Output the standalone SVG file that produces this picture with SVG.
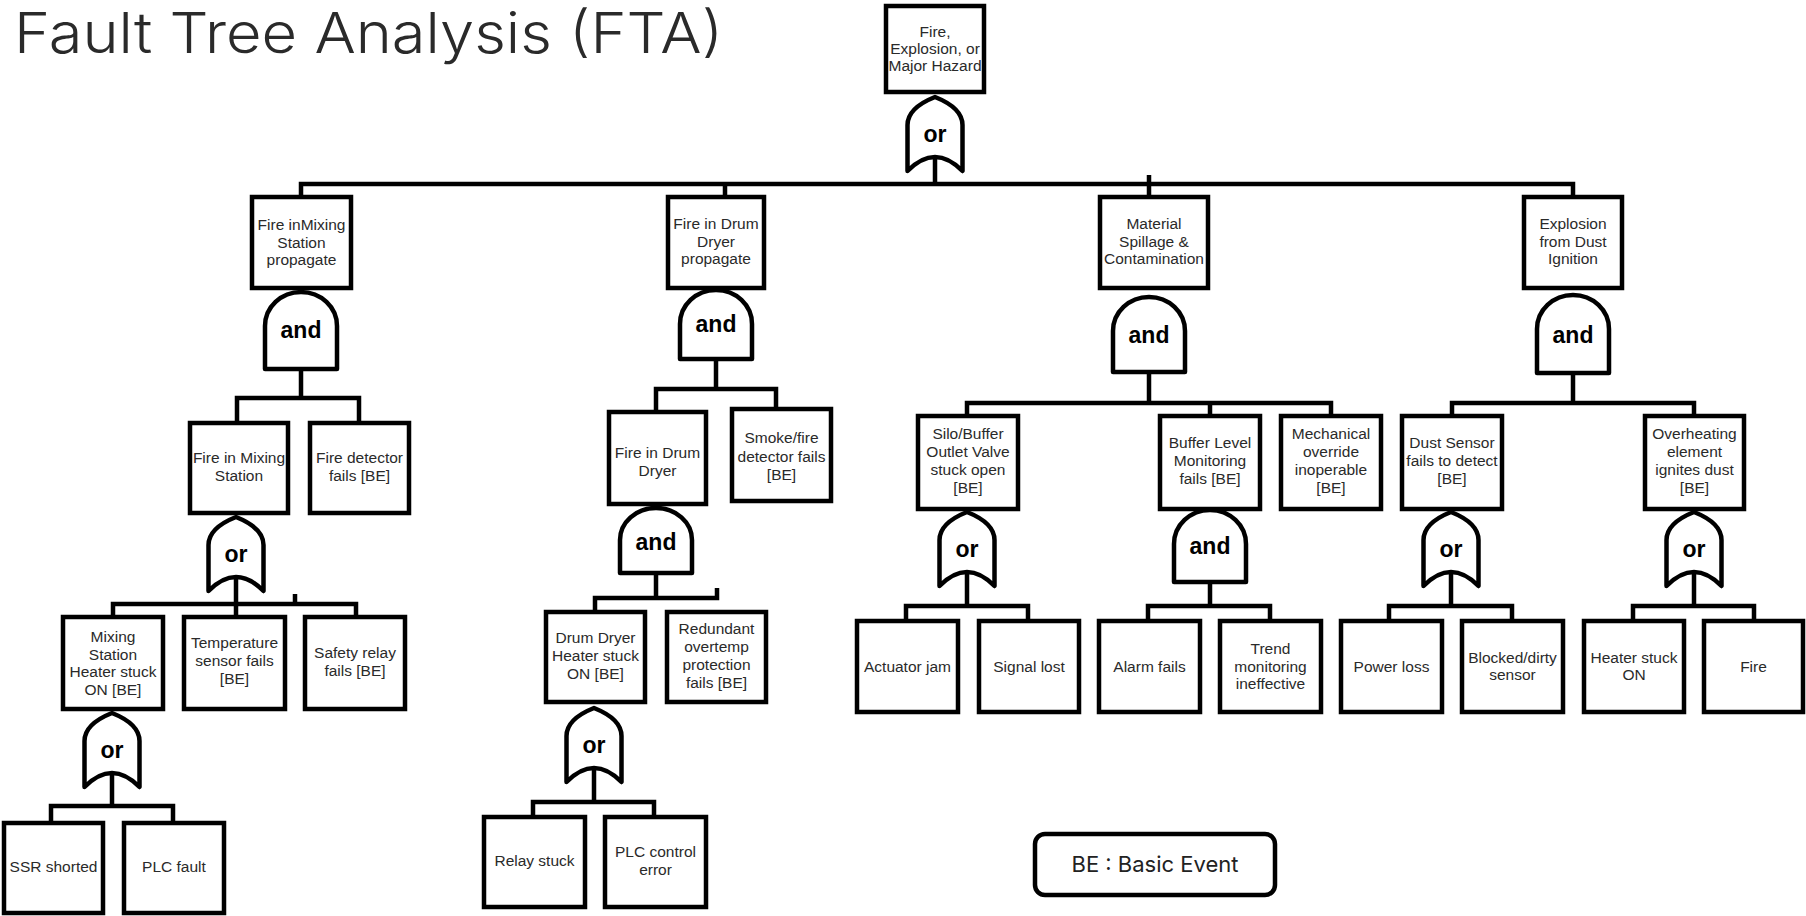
<svg xmlns="http://www.w3.org/2000/svg" xmlns:xlink="http://www.w3.org/1999/xlink" width="1806" height="916" viewBox="0 0 1806 916">
<style>
.box{fill:#fff;stroke:#000;stroke-width:4.5}
.gate{fill:#fff;stroke:#000;stroke-width:4.5;stroke-linejoin:round}
.wire{fill:none;stroke:#000;stroke-width:4.5;stroke-linejoin:miter}
.t{font-family:"Liberation Sans",Arial,sans-serif;font-size:15.5px;fill:#2a2a2a;text-anchor:middle}
.g{font-family:"Liberation Sans",Arial,sans-serif;font-size:23px;font-weight:bold;fill:#000;text-anchor:middle}
.title{font-family:Inter,"Liberation Sans",sans-serif;font-weight:300;font-size:56px;fill:#2a2a2a}
.legend{font-family:Inter,"Liberation Sans",sans-serif;font-size:22px;fill:#222;text-anchor:middle}
</style>
<defs>
<path id="or" class="gate" d="M0,0 Q-27.5,11 -27.5,28 L-27.5,74 Q0,46 27.5,74 L27.5,28 Q27.5,11 0,0 Z"/>
</defs>
<rect width="1806" height="916" fill="#fff"/>
<text class="title" x="14" y="53" textLength="709" lengthAdjust="spacingAndGlyphs">Fault Tree Analysis (FTA)</text>

<g id="connectors">
<path class="wire" d="M935,150 V184 M301,197 V184 H1573 V197 M725,184 V197 M1149,175 V197"/>
<path class="wire" d="M301,360 V398 M237,423 V398 H359 V423"/>
<path class="wire" d="M716,350 V389 M656,412 V389 H776 V409"/>
<path class="wire" d="M1149,360 V403 M967,416 V403 H1331 V416 M1210,403 V416"/>
<path class="wire" d="M1573,360 V403 M1452,416 V403 H1694 V416"/>
<path class="wire" d="M236,570 V617 M113,617 V604 H356 V617 M295,594 V604"/>
<path class="wire" d="M656,560 V598 M595,612 V598 H717 V588"/>
<path class="wire" d="M112,770 V806 M51,823 V806 H173 V823"/>
<path class="wire" d="M594,765 V802 M533,817 V802 H654 V817"/>
<path class="wire" d="M967,570 V606 M906,621 V606 H1028 V621"/>
<path class="wire" d="M1210,570 V606 M1148,621 V606 H1270 V621"/>
<path class="wire" d="M1451,570 V606 M1389,621 V606 H1512 V621"/>
<path class="wire" d="M1694,570 V606 M1633,621 V606 H1754 V621"/>
</g>

<g id="top">
<rect class="box" x="886" y="6" width="98" height="86"/>
<text class="t"><tspan x="935" y="37">Fire,</tspan><tspan x="935" y="54">Explosion, or</tspan><tspan x="935" y="71">Major Hazard</tspan></text>
</g>
<g id="gate-top"><use xlink:href="#or" x="935" y="97"/><text class="g" x="935" y="142">or</text></g>

<g id="mix-propagate">
<rect class="box" x="252" y="197" width="99" height="91"/>
<text class="t"><tspan x="301.5" y="230">Fire inMixing</tspan><tspan x="301.5" y="247.5">Station</tspan><tspan x="301.5" y="265">propagate</tspan></text>
</g>
<g id="gate-mix-propagate"><path class="gate" d="M265,369 V326 A36,34 0 0 1 337,326 V369 Z"/><text class="g" x="301" y="338">and</text></g>

<g id="drum-propagate">
<rect class="box" x="668" y="197" width="96" height="91"/>
<text class="t"><tspan x="716" y="229">Fire in Drum</tspan><tspan x="716" y="247">Dryer</tspan><tspan x="716" y="264">propagate</tspan></text>
</g>
<g id="gate-drum-propagate"><path class="gate" d="M680,359 V324 A36,34 0 0 1 752,324 V359 Z"/><text class="g" x="716" y="332">and</text></g>

<g id="spillage">
<rect class="box" x="1100" y="197" width="108" height="91"/>
<text class="t"><tspan x="1154" y="229">Material</tspan><tspan x="1154" y="247">Spillage &amp;</tspan><tspan x="1154" y="264">Contamination</tspan></text>
</g>
<g id="gate-spillage"><path class="gate" d="M1113,372 V331 A36,34 0 0 1 1185,331 V372 Z"/><text class="g" x="1149" y="343">and</text></g>

<g id="dust-explosion">
<rect class="box" x="1524" y="197" width="98" height="91"/>
<text class="t"><tspan x="1573" y="229">Explosion</tspan><tspan x="1573" y="247">from Dust</tspan><tspan x="1573" y="264">Ignition</tspan></text>
</g>
<g id="gate-dust-explosion"><path class="gate" d="M1537,373 V329 A36,34 0 0 1 1609,329 V373 Z"/><text class="g" x="1573" y="343">and</text></g>

<g id="fire-mixing">
<rect class="box" x="190" y="423" width="98" height="90"/>
<text class="t"><tspan x="239" y="463">Fire in Mixing</tspan><tspan x="239" y="481">Station</tspan></text>
</g>
<g id="gate-fire-mixing"><use xlink:href="#or" x="236" y="517"/><text class="g" x="236" y="562">or</text></g>

<g id="fire-detector">
<rect class="box" x="310" y="423" width="99" height="90"/>
<text class="t"><tspan x="359.5" y="463">Fire detector</tspan><tspan x="359.5" y="481">fails [BE]</tspan></text>
</g>

<g id="fire-drum">
<rect class="box" x="609" y="412" width="97" height="92"/>
<text class="t"><tspan x="657.5" y="458">Fire in Drum</tspan><tspan x="657.5" y="476">Dryer</tspan></text>
</g>
<g id="gate-fire-drum"><path class="gate" d="M620,573 V540 A36,32 0 0 1 692,540 V573 Z"/><text class="g" x="656" y="550">and</text></g>

<g id="smoke-detector">
<rect class="box" x="732" y="409" width="99" height="92"/>
<text class="t"><tspan x="781.5" y="443">Smoke/fire</tspan><tspan x="781.5" y="462">detector fails</tspan><tspan x="781.5" y="480">[BE]</tspan></text>
</g>

<g id="silo-valve">
<rect class="box" x="918" y="416" width="100" height="93"/>
<text class="t"><tspan x="968" y="439">Silo/Buffer</tspan><tspan x="968" y="457">Outlet Valve</tspan><tspan x="968" y="475">stuck open</tspan><tspan x="968" y="493">[BE]</tspan></text>
</g>
<g id="gate-silo-valve"><use xlink:href="#or" x="967" y="512"/><text class="g" x="967" y="557">or</text></g>

<g id="buffer-level">
<rect class="box" x="1160" y="416" width="100" height="93"/>
<text class="t"><tspan x="1210" y="448">Buffer Level</tspan><tspan x="1210" y="466">Monitoring</tspan><tspan x="1210" y="484">fails [BE]</tspan></text>
</g>
<g id="gate-buffer-level"><path class="gate" d="M1174,582 V544 A36,34 0 0 1 1246,544 V582 Z"/><text class="g" x="1210" y="554">and</text></g>

<g id="mechanical-override">
<rect class="box" x="1281" y="416" width="100" height="93"/>
<text class="t"><tspan x="1331" y="439">Mechanical</tspan><tspan x="1331" y="457">override</tspan><tspan x="1331" y="475">inoperable</tspan><tspan x="1331" y="493">[BE]</tspan></text>
</g>

<g id="dust-sensor">
<rect class="box" x="1402" y="416" width="100" height="93"/>
<text class="t"><tspan x="1452" y="448">Dust Sensor</tspan><tspan x="1452" y="466">fails to detect</tspan><tspan x="1452" y="484">[BE]</tspan></text>
</g>
<g id="gate-dust-sensor"><use xlink:href="#or" x="1451" y="512"/><text class="g" x="1451" y="557">or</text></g>

<g id="overheating">
<rect class="box" x="1645" y="416" width="99" height="93"/>
<text class="t"><tspan x="1694.5" y="439">Overheating</tspan><tspan x="1694.5" y="457">element</tspan><tspan x="1694.5" y="475">ignites dust</tspan><tspan x="1694.5" y="493">[BE]</tspan></text>
</g>
<g id="gate-overheating"><use xlink:href="#or" x="1694" y="512"/><text class="g" x="1694" y="557">or</text></g>

<g id="mix-heater">
<rect class="box" x="63" y="617" width="100" height="92"/>
<text class="t"><tspan x="113" y="642">Mixing</tspan><tspan x="113" y="659.5">Station</tspan><tspan x="113" y="677">Heater stuck</tspan><tspan x="113" y="694.5">ON [BE]</tspan></text>
</g>
<g id="gate-mix-heater"><use xlink:href="#or" x="112" y="713"/><text class="g" x="112" y="758">or</text></g>

<g id="temp-sensor">
<rect class="box" x="184" y="617" width="101" height="92"/>
<text class="t"><tspan x="234.5" y="648">Temperature</tspan><tspan x="234.5" y="666">sensor fails</tspan><tspan x="234.5" y="684">[BE]</tspan></text>
</g>

<g id="safety-relay">
<rect class="box" x="305" y="617" width="100" height="92"/>
<text class="t"><tspan x="355" y="658">Safety relay</tspan><tspan x="355" y="676">fails [BE]</tspan></text>
</g>

<g id="drum-heater">
<rect class="box" x="546" y="612" width="99" height="90"/>
<text class="t"><tspan x="595.5" y="643">Drum Dryer</tspan><tspan x="595.5" y="661">Heater stuck</tspan><tspan x="595.5" y="679">ON [BE]</tspan></text>
</g>
<g id="gate-drum-heater"><use xlink:href="#or" x="594" y="708"/><text class="g" x="594" y="753">or</text></g>

<g id="redundant-overtemp">
<rect class="box" x="667" y="612" width="99" height="90"/>
<text class="t"><tspan x="716.5" y="634">Redundant</tspan><tspan x="716.5" y="652">overtemp</tspan><tspan x="716.5" y="670">protection</tspan><tspan x="716.5" y="688">fails [BE]</tspan></text>
</g>

<g id="actuator-jam"><rect class="box" x="857" y="621" width="101" height="91"/><text class="t" x="907.5" y="672">Actuator jam</text></g>
<g id="signal-lost"><rect class="box" x="979" y="621" width="100" height="91"/><text class="t" x="1029" y="672">Signal lost</text></g>
<g id="alarm-fails"><rect class="box" x="1099" y="621" width="101" height="91"/><text class="t" x="1149.5" y="672">Alarm fails</text></g>
<g id="trend-monitoring"><rect class="box" x="1220" y="621" width="101" height="91"/><text class="t"><tspan x="1270.5" y="654">Trend</tspan><tspan x="1270.5" y="672">monitoring</tspan><tspan x="1270.5" y="689">ineffective</tspan></text></g>
<g id="power-loss"><rect class="box" x="1341" y="621" width="101" height="91"/><text class="t" x="1391.5" y="672">Power loss</text></g>
<g id="blocked-sensor"><rect class="box" x="1462" y="621" width="101" height="91"/><text class="t"><tspan x="1512.5" y="663">Blocked/dirty</tspan><tspan x="1512.5" y="680">sensor</tspan></text></g>
<g id="heater-stuck-on"><rect class="box" x="1584" y="621" width="100" height="91"/><text class="t"><tspan x="1634" y="663">Heater stuck</tspan><tspan x="1634" y="680">ON</tspan></text></g>
<g id="fire"><rect class="box" x="1704" y="621" width="99" height="91"/><text class="t" x="1753.5" y="672">Fire</text></g>

<g id="ssr-shorted"><rect class="box" x="4" y="823" width="99" height="90"/><text class="t" x="53.5" y="872">SSR shorted</text></g>
<g id="plc-fault"><rect class="box" x="124" y="823" width="100" height="90"/><text class="t" x="174" y="872">PLC fault</text></g>
<g id="relay-stuck"><rect class="box" x="484" y="817" width="101" height="90"/><text class="t" x="534.5" y="866">Relay stuck</text></g>
<g id="plc-control"><rect class="box" x="605" y="817" width="101" height="90"/><text class="t"><tspan x="655.5" y="857">PLC control</tspan><tspan x="655.5" y="875">error</tspan></text></g>

<g id="legend">
<rect class="box" x="1035" y="834" width="240" height="61" rx="10"/>
<text class="legend" x="1155" y="872">BE : Basic Event</text>
</g>
</svg>
